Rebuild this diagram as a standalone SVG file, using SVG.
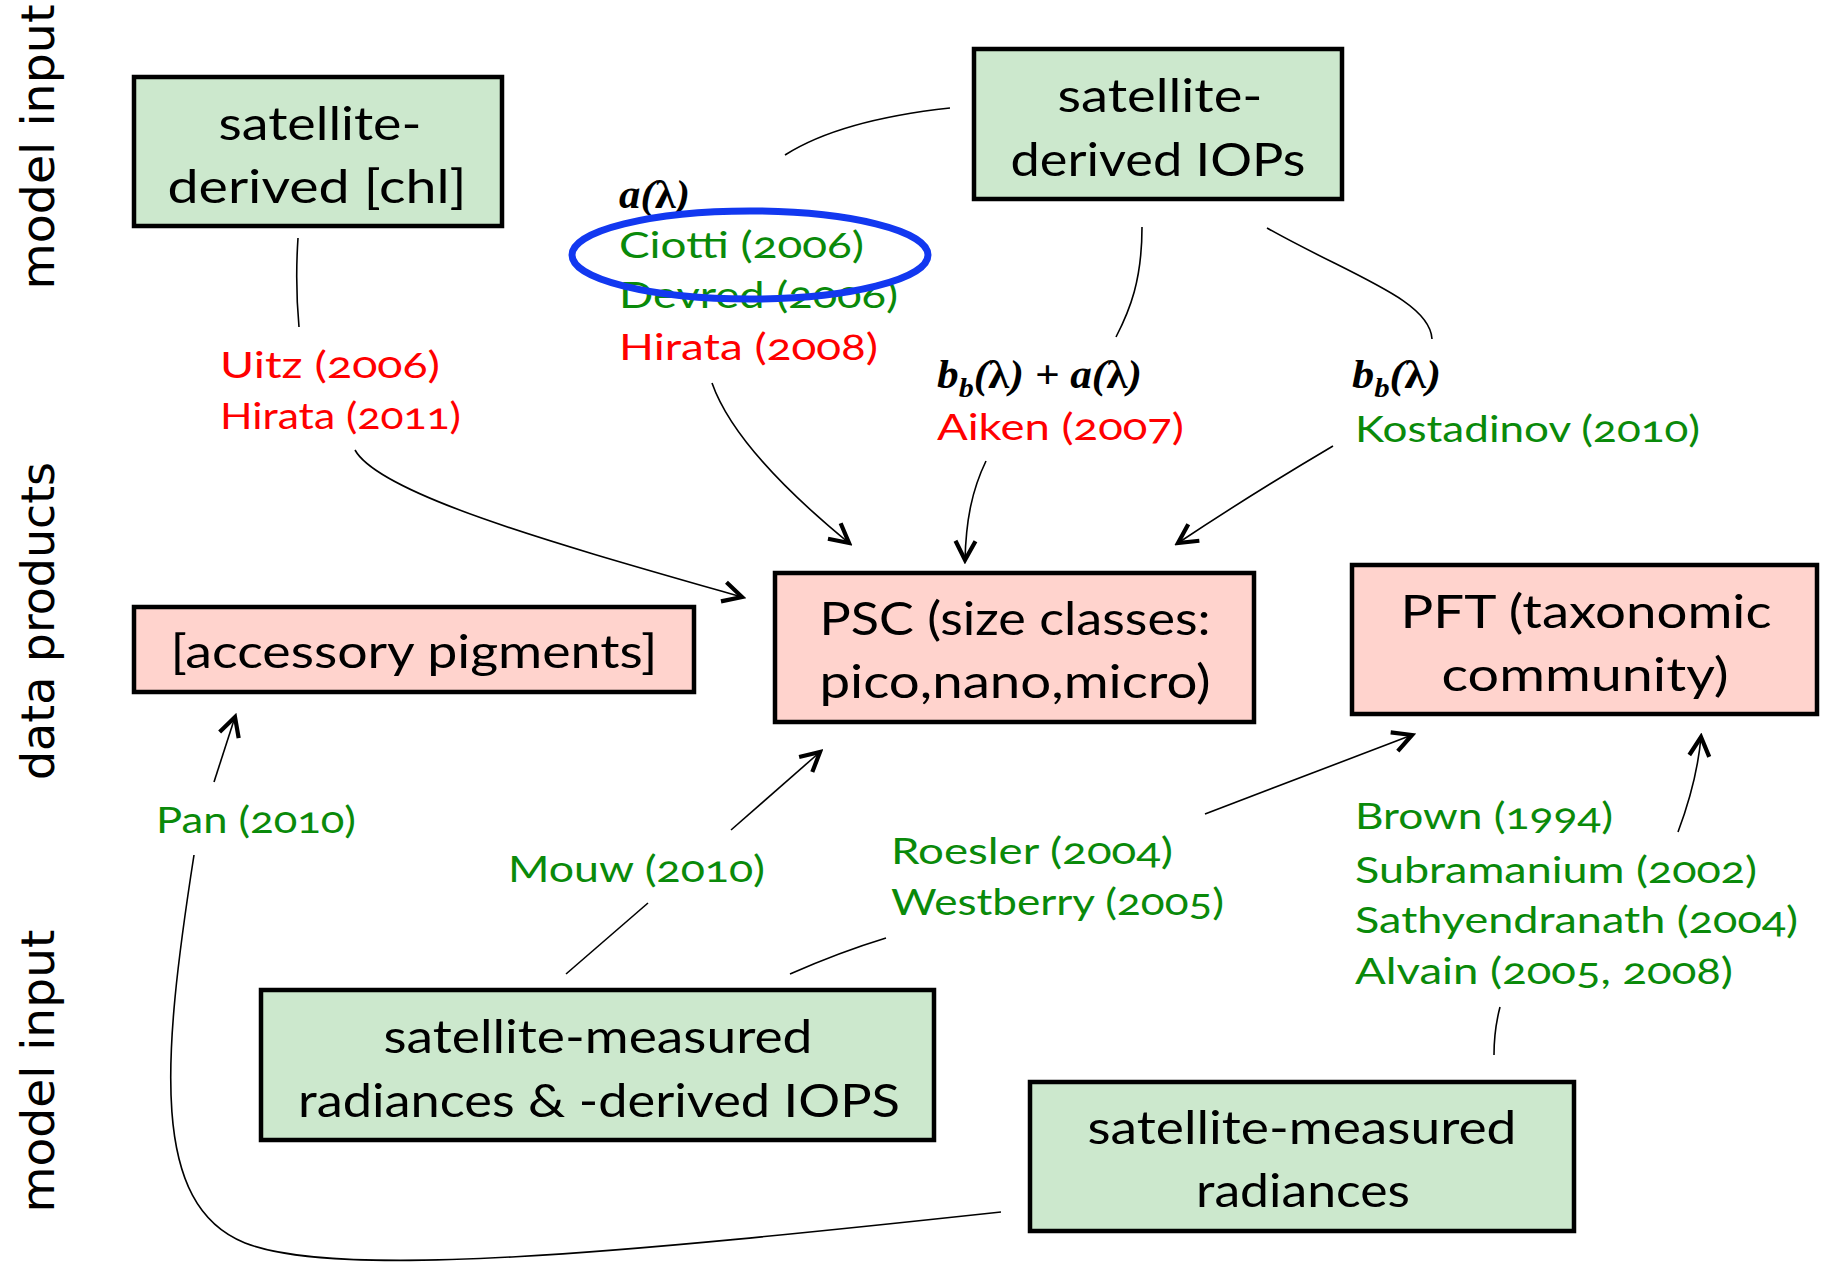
<svg xmlns="http://www.w3.org/2000/svg" width="1827" height="1264" viewBox="0 0 1827 1264">
<style>
.box{stroke:#000;stroke-width:4.5}
.g{fill:#CCE8CD}
.p{fill:#FFD3CD}
.bt{font-family:Lato,"Open Sans",sans-serif;font-size:46px;text-anchor:middle;fill:#000}
.ct{font-family:Lato,"Open Sans",sans-serif;font-size:37px;font-variant-numeric:oldstyle-nums}
.red{fill:#FF0000}
.grn{fill:#0A8A0A}
.m{font-family:"Liberation Serif",serif;font-weight:bold;font-style:italic;font-size:39px;fill:#000}
.side{font-family:"DejaVu Sans",sans-serif;font-size:46px;text-anchor:middle;fill:#000}
.c{fill:none;stroke:#000;stroke-width:1.6}
.a{marker-end:url(#arr)}
</style>
<defs>
<marker id="arr" viewBox="-24 -14 28 28" markerWidth="28" markerHeight="28" refX="0" refY="0" markerUnits="userSpaceOnUse" orient="auto">
<path d="M-19,-10 L0,0 L-19,10" fill="none" stroke="#000" stroke-width="4.2" stroke-linejoin="miter"/>
</marker>
</defs>
<rect width="1827" height="1264" fill="#fff"/>

<g id="side-labels">
<text class="side" transform="translate(54,147) rotate(-90)" textLength="285" lengthAdjust="spacingAndGlyphs">model input</text>
<text class="side" transform="translate(54,621) rotate(-90)" textLength="318" lengthAdjust="spacingAndGlyphs">data products</text>
<text class="side" transform="translate(54,1071) rotate(-90)" textLength="283" lengthAdjust="spacingAndGlyphs">model input</text>
</g>

<g id="connectors">
<path class="c" d="M298,238 Q295,283 299,327"/>
<path class="c a" d="M355,450 C380,495 560,545 742,597"/>
<path class="c" d="M785,155 Q840,120 950,108"/>
<path class="c a" d="M712,383 C725,420 760,470 849,543"/>
<path class="c" d="M1142,227 C1142,280 1130,310 1116,337"/>
<path class="c" d="M1267,228 C1350,275 1430,300 1432,339"/>
<path class="c a" d="M986,461 C972,490 966,520 965,560"/>
<path class="c a" d="M1333,446 Q1250,495 1178,543"/>
<path class="c a" d="M214,782 L235,717"/>
<path class="c" d="M194,855 C162,1060 150,1205 245,1243 C340,1280 620,1253 1001,1212"/>
<path class="c a" d="M731,830 L820,752"/>
<path class="c" d="M566,974 L648,903"/>
<path class="c" d="M790,974 Q840,952 886,938"/>
<path class="c a" d="M1205,814 L1412,735"/>
<path class="c a" d="M1678,832 C1690,800 1698,770 1701,737"/>
<path class="c" d="M1494,1055 Q1494,1030 1500,1007"/>
</g>

<g id="chl">
<rect class="box g" x="134" y="77" width="368" height="149"/>
<text class="bt" x="320" y="140" textLength="203" lengthAdjust="spacingAndGlyphs">satellite-</text>
<text class="bt" x="317" y="203" textLength="299" lengthAdjust="spacingAndGlyphs">derived [chl]</text>
</g>
<g id="iops">
<rect class="box g" x="974" y="49" width="368" height="150"/>
<text class="bt" x="1160" y="112" textLength="205" lengthAdjust="spacingAndGlyphs">satellite-</text>
<text class="bt" x="1158" y="176" textLength="295" lengthAdjust="spacingAndGlyphs">derived IOPs</text>
</g>
<g id="accessory">
<rect class="box p" x="134" y="607" width="560" height="85"/>
<text class="bt" x="414" y="668" textLength="487" lengthAdjust="spacingAndGlyphs">[accessory pigments]</text>
</g>
<g id="psc">
<rect class="box p" x="775" y="573" width="479" height="149"/>
<text class="bt" x="1015" y="635" textLength="391" lengthAdjust="spacingAndGlyphs">PSC (size classes:</text>
<text class="bt" x="1015" y="698" textLength="391" lengthAdjust="spacingAndGlyphs">pico,nano,micro)</text>
</g>
<g id="pft">
<rect class="box p" x="1352" y="565" width="465" height="149"/>
<text class="bt" x="1586" y="628" textLength="371" lengthAdjust="spacingAndGlyphs">PFT (taxonomic</text>
<text class="bt" x="1585" y="691" textLength="287" lengthAdjust="spacingAndGlyphs">community)</text>
</g>
<g id="rad-iops">
<rect class="box g" x="261" y="990" width="673" height="150"/>
<text class="bt" x="598" y="1053" textLength="429" lengthAdjust="spacingAndGlyphs">satellite-measured</text>
<text class="bt" x="599" y="1117" textLength="602" lengthAdjust="spacingAndGlyphs">radiances &amp; -derived IOPS</text>
</g>
<g id="radiances">
<rect class="box g" x="1030" y="1082" width="544" height="149"/>
<text class="bt" x="1302" y="1144" textLength="429" lengthAdjust="spacingAndGlyphs">satellite-measured</text>
<text class="bt" x="1303" y="1207" textLength="214" lengthAdjust="spacingAndGlyphs">radiances</text>
</g>

<g id="labels">
<text class="ct red" x="220" y="378" textLength="220" lengthAdjust="spacingAndGlyphs">Uitz (2006)</text>
<text class="ct red" x="220" y="429" textLength="241" lengthAdjust="spacingAndGlyphs">Hirata (2011)</text>
<text class="m" x="619" y="208" textLength="71" lengthAdjust="spacingAndGlyphs">a(<tspan font-style="normal">λ</tspan>)</text>
<text class="ct grn" x="619" y="258" textLength="245" lengthAdjust="spacingAndGlyphs">Ciotti (2006)</text>
<text class="ct grn" x="619" y="308" textLength="279" lengthAdjust="spacingAndGlyphs">Devred (2006)</text>
<text class="ct red" x="619" y="360" textLength="259" lengthAdjust="spacingAndGlyphs">Hirata (2008)</text>
<text class="m" x="937" y="388" textLength="205" lengthAdjust="spacingAndGlyphs">b<tspan font-size="27" dy="9">b</tspan><tspan dy="-9">(<tspan font-style="normal">λ</tspan>) + a(<tspan font-style="normal">λ</tspan>)</tspan></text>
<text class="ct red" x="937" y="440" textLength="247" lengthAdjust="spacingAndGlyphs">Aiken (2007)</text>
<text class="m" x="1352" y="388" textLength="89" lengthAdjust="spacingAndGlyphs">b<tspan font-size="27" dy="9">b</tspan><tspan dy="-9">(<tspan font-style="normal">λ</tspan>)</tspan></text>
<text class="ct grn" x="1355" y="442" textLength="345" lengthAdjust="spacingAndGlyphs">Kostadinov (2010)</text>
<text class="ct grn" x="156" y="833" textLength="200" lengthAdjust="spacingAndGlyphs">Pan (2010)</text>
<text class="ct grn" x="508" y="882" textLength="257" lengthAdjust="spacingAndGlyphs">Mouw (2010)</text>
<text class="ct grn" x="891" y="864" textLength="282" lengthAdjust="spacingAndGlyphs">Roesler (2004)</text>
<text class="ct grn" x="891" y="915" textLength="333" lengthAdjust="spacingAndGlyphs">Westberry (2005)</text>
<text class="ct grn" x="1355" y="829" textLength="258" lengthAdjust="spacingAndGlyphs">Brown (1994)</text>
<text class="ct grn" x="1355" y="883" textLength="402" lengthAdjust="spacingAndGlyphs">Subramanium (2002)</text>
<text class="ct grn" x="1355" y="933" textLength="443" lengthAdjust="spacingAndGlyphs">Sathyendranath (2004)</text>
<text class="ct grn" x="1355" y="984" textLength="378" lengthAdjust="spacingAndGlyphs">Alvain (2005, 2008)</text>
</g>

<g id="highlight">
<ellipse cx="750" cy="255" rx="178" ry="44" fill="none" stroke="#1238F0" stroke-width="7"/>
</g>
</svg>
